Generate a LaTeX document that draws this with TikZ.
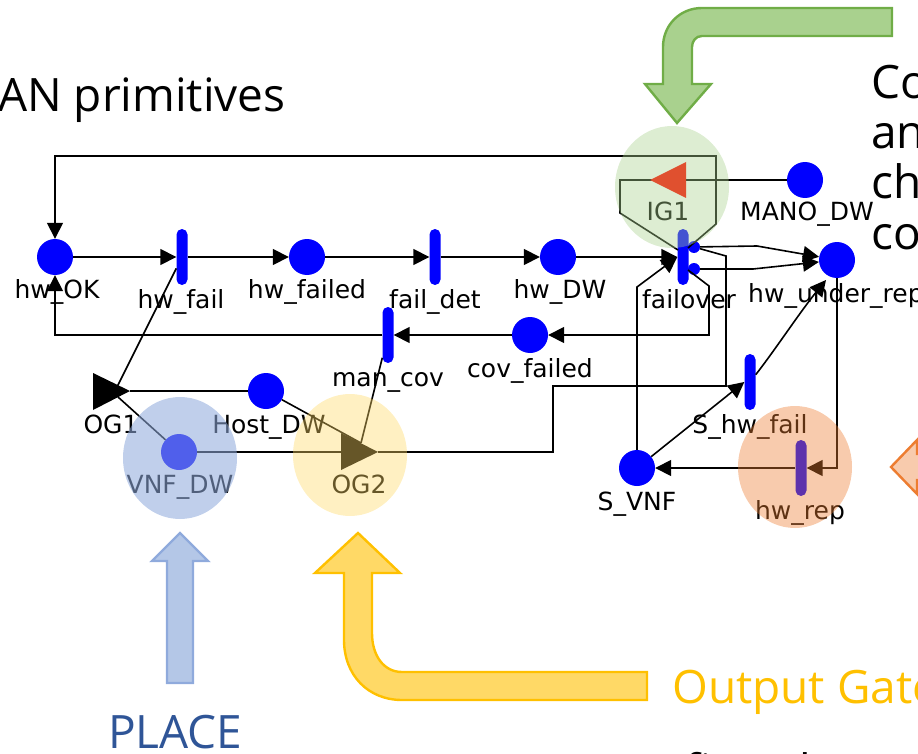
\documentclass[tikz,border=0pt]{standalone}
\usepackage{fontspec}
\setmainfont{Open Sans}
\newfontfamily\labelfont{DejaVu Sans}
\usetikzlibrary{arrows.meta}
\definecolor{placeblue}{HTML}{0000FF}
\definecolor{greenline}{HTML}{70AD47}
\definecolor{greenfill}{HTML}{A9D18E}
\definecolor{yellowline}{HTML}{FFC000}
\definecolor{yellowfill}{HTML}{FFD966}
\definecolor{blueline}{HTML}{8FAADC}
\definecolor{bluefill}{HTML}{B4C7E7}
\definecolor{orangeline}{HTML}{ED7D31}
\definecolor{orangefill}{HTML}{F8CBAD}
\definecolor{darkblue}{HTML}{2F5597}
\definecolor{igred}{HTML}{E0502F}
\tikzset{
	place/.style={circle,fill=placeblue,minimum size=36pt,inner sep=0pt},
	trans/.style={rounded corners=5.5pt,fill=placeblue,minimum width=11pt,minimum height=56pt,inner sep=0pt},
	dot/.style={circle,fill=placeblue,minimum size=12pt,inner sep=0pt},
	lab/.style={font=\labelfont\fontsize{25}{25}\selectfont,inner sep=0pt,text=black,anchor=base},
	arc/.style={line width=1.6pt,-{Triangle[length=16pt,width=16pt]}},
	link/.style={line width=1.6pt},
	halo/.style={fill=#1,opacity=0.4,draw=none},
	block/.style={line width=2.4pt,draw=#1},
	big/.style={font=\fontsize{46}{46}\selectfont,inner sep=0pt,anchor=base west}
}
\begin{document}
\begin{tikzpicture}[x=1pt,y=-1pt]
	\useasboundingbox (0,0) rectangle (918,754);
	\clip (0,0) rectangle (918,754);
%
	\node[big] (title) at (-2,112) {AN primitives};
	\node[big] (co) at (871,99) {Co};
	\node[big] (an) at (871,149) {an};
	\node[big] (ch) at (871,199) {ch};
	\node[big] (cor) at (871,249) {cor};
	\node[big,text=yellowline] (outgate) at (672,703) {Output Gate};
	\node[big,text=darkblue] (placetxt) at (108,748) {PLACE};
	\node[big] (defines) at (625,787) {Defines how the};
%
	\draw[block=greenline,fill=greenfill]
		(892,8) -- (702,8) .. controls (680,8) and (663,25) .. (663,47) -- (663,84) -- (645,84) -- (677,123)
		-- (711,84) -- (692,84) -- (692,47) .. controls (692,41) and (696,36) .. (702,36) -- (892,36) -- cycle;
	\draw[block=yellowline,fill=yellowfill]
		(647,672) -- (402,672) .. controls (384,672) and (372,656) .. (372,633) -- (372,573) -- (400,573) -- (358,533)
		-- (315,573) -- (344,573) -- (344,640) .. controls (344,675) and (368,700) .. (402,700) -- (647,700) -- cycle;
	\draw[block=blueline,fill=bluefill]
		(167,683) -- (167,561) -- (152,561) -- (180,533) -- (208,561) -- (193,561) -- (193,683) -- cycle;
	\draw[block=orangeline,fill=orangefill]
		(917,440) -- (891,467) -- (917,494) -- (917,480) -- (925,480) -- (925,454) -- (917,454) -- cycle;
%
	\node[place] (hw_OK) at (55,257) {};
	\node[place] (hw_failed) at (307,257) {};
	\node[place] (hw_DW) at (558,257) {};
	\node[place] (cov_failed) at (530,335) {};
	\node[place] (MANO_DW) at (805,180) {};
	\node[place] (hw_under_rep) at (837,260) {};
	\node[place] (Host_DW) at (266,391) {};
	\node[place] (VNF_DW) at (179,452) {};
	\node[place] (S_VNF) at (637,468) {};
	\node[trans] (hw_fail) at (182,257) {};
	\node[trans] (fail_det) at (435,257) {};
	\node[trans] (failover) at (683,257) {};
	\node[trans] (man_cov) at (388,335) {};
	\node[trans] (S_hw_fail) at (750,382) {};
	\node[trans] (hw_rep) at (801,468) {};
	\node[dot] (dot_up) at (694,247) {};
	\node[dot] (dot_low) at (694,269) {};
	\coordinate (OG1) at (130,391);
	\coordinate (OG2) at (378,452);
	\coordinate (IG1) at (650,180);
	\fill (93,373) -- (OG1) -- (93,410) -- cycle;
	\fill (341,433) -- (OG2) -- (341,470) -- cycle;
%
	\draw[arc] (hw_OK) -- (hw_fail.west);
	\draw[arc] (hw_fail) -- (hw_failed);
	\draw[arc] (hw_failed) -- (fail_det.west);
	\draw[arc] (fail_det) -- (hw_DW);
	\draw[arc] (hw_DW) -- (failover.west);
	\draw[arc] (688,248) -- (716,224) -- (716,156) -- (55,156) -- (hw_OK);
	\draw[link] (MANO_DW) -- (IG1) -- (620,180) -- (620,213) -- (678,250);
	\draw[arc] (dot_up) -- (757,246) -- (hw_under_rep);
	\draw[arc] (dot_low) -- (753,269) -- (hw_under_rep);
	\draw[link] (dot_up) -- (726,256) -- (726,386) -- (553,386) -- (553,452) -- (OG2);
	\draw[arc] (688,270) -- (709,286) -- (709,335) -- (cov_failed);
	\draw[arc] (S_VNF) -- (637,287) -- (failover.west);
	\draw[arc] (cov_failed) -- (man_cov.east);
	\draw[arc] (man_cov) -- (55,335) -- (hw_OK);
	\draw[link] (hw_fail) -- (115,391);
	\draw[link] (361,443) -- (man_cov);
	\draw[link] (Host_DW) -- (OG1);
	\draw[link] (Host_DW) -- (361,443);
	\draw[link] (VNF_DW) -- (118,397);
	\draw[link] (VNF_DW) -- (341,452);
	\draw[arc] (S_VNF) -- (S_hw_fail.west);
	\draw[arc] (S_hw_fail) .. controls (775,350) and (800,312) .. (826,280);
	\draw[arc] (hw_under_rep) -- (837,468) -- (hw_rep.east);
	\draw[arc] (hw_rep) -- (S_VNF);
%
	\node[lab] (l_hw_OK) at (57,298) {hw\_OK};
	\node[lab] (l_hw_fail) at (181,308) {hw\_fail};
	\node[lab] (l_hw_failed) at (307,298) {hw\_failed};
	\node[lab] (l_fail_det) at (435,308) {fail\_det};
	\node[lab] (l_hw_DW) at (560,298) {hw\_DW};
	\node[lab] (l_failover) at (689,308) {failover};
	\node[lab,anchor=base west] (l_under) at (748,302) {hw\_under\_rep};
	\node[lab] (l_MANO) at (807,221) {MANO\_DW};
	\node[lab] (l_IG1) at (668,221) {IG1};
	\node[lab] (l_man_cov) at (388,386) {man\_cov};
	\node[lab] (l_cov) at (530,377) {cov\_failed};
	\node[lab] (l_OG1) at (111,433) {OG1};
	\node[lab] (l_Host) at (269,433) {Host\_DW};
	\node[lab] (l_VNF) at (180,493) {VNF\_DW};
	\node[lab] (l_OG2) at (359,493) {OG2};
	\node[lab] (l_Shw) at (750,433) {S\_hw\_fail};
	\node[lab] (l_SVNF) at (637,510) {S\_VNF};
	\node[lab] (l_rep) at (800,519) {hw\_rep};
%
	\fill[halo=greenfill] (672,187) ellipse (57 and 61);
	\fill[halo=blueline,opacity=0.56] (180,458) ellipse (57 and 61);
	\fill[halo=yellowfill] (350,455) ellipse (57 and 61);
	\fill[halo=orangeline] (795,467) ellipse (57 and 61);
	\fill[igred] (IG1) -- (686,162) -- (686,198) -- cycle;
\end{tikzpicture}
\end{document}
